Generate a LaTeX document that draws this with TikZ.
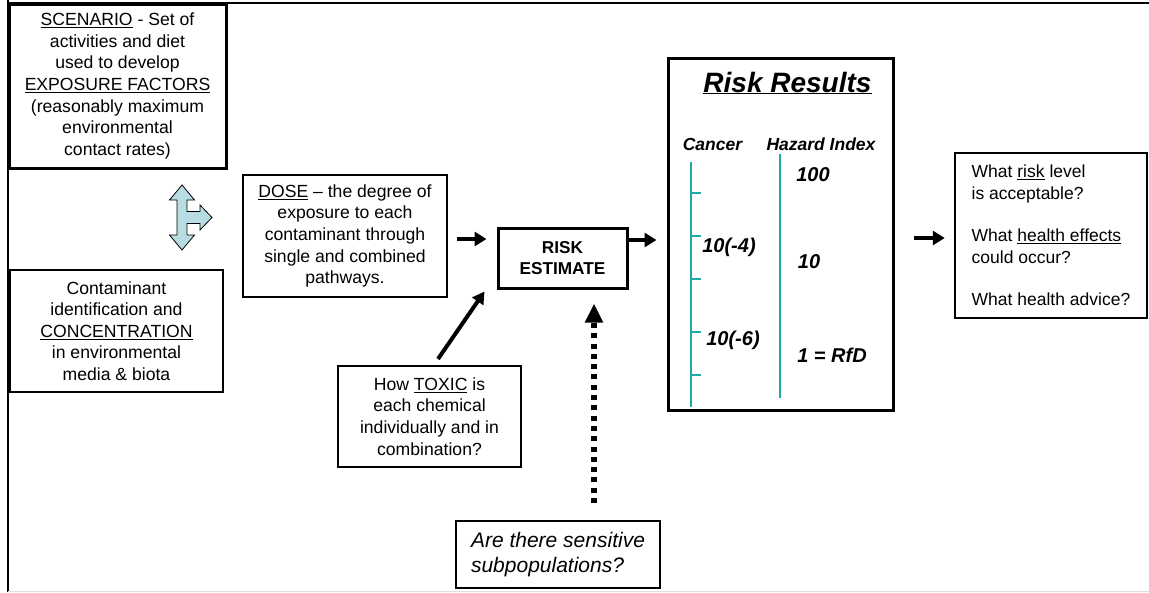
\documentclass[tikz,border=0pt]{standalone}
\usepackage{fontspec}
\setmainfont{Liberation Sans}
\usetikzlibrary{arrows.meta,calc}
\definecolor{arrowfill}{RGB}{183,221,226}
\definecolor{axisteal}{RGB}{30,168,168}
\newcommand\myul[1]{\underline{#1}}
\begin{document}
\begin{tikzpicture}[x=1pt,y=-1pt,
  box/.style={draw,line width=2pt,align=center,inner sep=0pt,
    font=\fontsize{17.6}{21.6}\selectfont},
  thickbox/.style={box,line width=3pt},
  lbl/.style={font=\fontsize{20}{24}\selectfont\bfseries\itshape,anchor=base,inner sep=0pt},
  hdr/.style={font=\fontsize{17.5}{20}\selectfont\bfseries\itshape,anchor=base,inner sep=0pt},
  arr/.style={line width=4.5pt,-{Triangle[length=12pt,width=14pt]}},
  slant/.style={line width=4pt,-{Triangle[length=12pt,width=13pt]}},
  dotarr/.style={line width=6pt,dash pattern=on 5pt off 5.3pt,-{Triangle[length=19pt,width=17pt]}},
  axis/.style={draw=axisteal,line width=1.3pt}]
\useasboundingbox (0,0) rectangle (1149,592);
% outer frame
\draw[line width=2.5pt] (8,0) -- (8,592);
\draw[line width=2.5pt] (8,3) -- (1149,3);
\draw[black!12,line width=1pt] (8,591) -- (1149,591);

% boxes
\node[thickbox,minimum width=217,minimum height=164] (scen) at (117.5,86)
  {\myul{SCENARIO} - Set of\\activities and diet\\used to develop\\\myul{EXPOSURE FACTORS}\\(reasonably maximum\\environmental\\contact rates)};
\node[box,line width=2.5pt,minimum width=213,minimum height=122] (conc) at (116.5,331)
  {Contaminant\\identification and\\\myul{CONCENTRATION}\\in environmental\\media \& biota};
\node[box,minimum width=204,minimum height=122] (dose) at (345,236)
  {\myul{DOSE} -- the degree of\\exposure to each\\contaminant through\\single and combined\\pathways.};
\node[thickbox,minimum width=129,minimum height=60,font=\fontsize{17.2}{21.5}\selectfont\bfseries] (risk) at (562.5,258)
  {RISK\\ESTIMATE};
\node[thickbox,minimum width=225,minimum height=352] (results) at (780.5,234) {};
\node[box,line width=2.5pt,minimum width=192,minimum height=165,align=left,font=\fontsize{17.5}{21.5}\selectfont] (what) at (1051,235.5)
  {What \myul{risk} level\\is acceptable?\\[21pt]What \myul{health effects}\\could occur?\\[21pt]What health advice?};
\node[box,minimum width=183,minimum height=101] (toxic) at (429.5,416.5)
  {How \myul{TOXIC} is\\each chemical\\individually and in\\combination?};
\node[box,minimum width=204,minimum height=67,align=left,font=\fontsize{21}{25.7}\selectfont\itshape] (sens) at (558,554.5)
  {Are there sensitive\\subpopulations?};

% three-way block arrow
\draw[fill=arrowfill,line width=0.8pt,line join=miter]
  (182,185) -- (194.5,200) -- (187,200) -- (187,211.5) -- (200,211.5) -- (200,205)
  -- (212,217.5) -- (200,230) -- (200,223.5) -- (187,223.5) -- (187,235) -- (194.5,235)
  -- (182,250) -- (169.5,235) -- (177,235) -- (177,200) -- (169.5,200) -- cycle;

% risk results contents
\node[font=\fontsize{28}{31}\selectfont\bfseries\itshape,anchor=base,inner sep=0pt] (rrtitle) at (787.5,92) {\myul{Risk Results}};
\node[hdr] (cancer) at (712.5,150) {Cancer};
\node[hdr] (hazard) at (821,150) {Hazard Index};
\draw[axis] (691,162) -- (691,407);
\foreach \t in {193,236,279,332,375} \draw[axis] (691,\t) -- (701,\t);
\draw[axis] (780,154) -- (780,398);
\node[lbl] (h100) at (813,181.5) {100};
\node[lbl] (c4) at (729,252) {10(-4)};
\node[lbl] (h10) at (809,268) {10};
\node[lbl] (c6) at (733,345) {10(-6)};
\node[lbl] (hrfd) at (832,362.5) {1 = RfD};

% connectors
\draw[arr] ($(dose.east)+(9,3)$) -- ($(risk.west |- dose.east)+(-10,3)$);
\draw[arr] ($(risk.east |- results)+(0,6)$) -- ($(results.west)+(-10,6)$);
\draw[arr] ($(results.east |- what.west)+(19,2.5)$) -- ($(what.west)+(-9,2.5)$);
\draw[slant] ($(toxic.north)+(8.5,-6)$) -- ($(risk.south west)+(-12,2)$);
\draw[dotarr] ($(sens.north)+(36,-17)$) coordinate (s1) -- ($(s1 |- risk.south)+(0,14)$);
\end{tikzpicture}
\end{document}
